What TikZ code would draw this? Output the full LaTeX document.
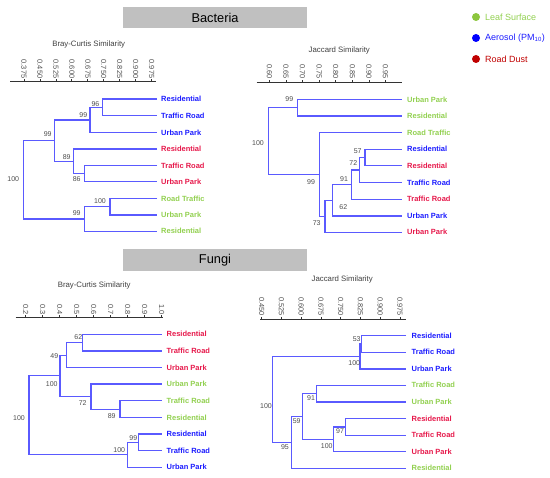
\documentclass[tikz,border=0pt]{standalone}
\usepackage{fontspec}
\setmainfont{Liberation Sans}
\definecolor{treeblue}{HTML}{5A5AFF}
\definecolor{labblue}{HTML}{1C1CFF}
\definecolor{labred}{HTML}{E6194B}
\definecolor{labgreen}{HTML}{92D050}
\definecolor{dotgreen}{HTML}{8CC63E}
\definecolor{dotred}{HTML}{C00000}
\definecolor{numgray}{HTML}{4D4D4D}
\definecolor{headgray}{HTML}{C0C0C0}
\tikzset{
  tree/.style={draw=treeblue, line width=1.1pt},
  leaf/.style={anchor=west, inner sep=0pt, font=\bfseries\fontsize{7.5}{8}\selectfont},
  boot/.style={inner sep=0pt, text=numgray, font=\fontsize{7}{8}\selectfont},
  ticklab/.style={rotate=-90, anchor=east, inner sep=0pt, text=numgray, font=\fontsize{7.4}{8}\selectfont},
  axis/.style={draw=black!80, line width=0.8pt},
  simtitle/.style={inner sep=0pt, text=black!75, font=\fontsize{7.8}{9}\selectfont},
  header/.style={fill=headgray, draw=none},
}
\begin{document}
\begin{tikzpicture}[x=1pt,y=-1pt]
\useasboundingbox (0,0) rectangle (550,478);
%headers
\fill[header] (123.3,7) rectangle (306.5,28);
\node[font=\fontsize{12.8}{14}\selectfont] (bachead) at (215,17.5) {Bacteria};
\fill[header] (123.3,249.3) rectangle (306.5,270.7);
\node[font=\fontsize{12.8}{14}\selectfont] (funhead) at (215,260) {Fungi};
%legend
\fill[dotgreen] (476,17) circle (4);
\fill[blue] (476,38) circle (4);
\fill[dotred] (476,59) circle (4);
\node[anchor=west, inner sep=0pt, text=labgreen, font=\fontsize{9}{10}\selectfont] (legleaf) at (485,17) {Leaf Surface};
\node[anchor=west, inner sep=0pt, text=labblue, font=\fontsize{9}{10}\selectfont] (legaer) at (485,38) {Aerosol (PM\textsubscript{10})};
\node[anchor=west, inner sep=0pt, text=dotred, font=\fontsize{9}{10}\selectfont] (legdust) at (485,59) {Road Dust};

%%% bacteria, bray-curtis
\node[simtitle] (bbtitle) at (88.7,44) {Bray-Curtis Similarity};
\draw[axis] (10,81.7) -- (156,81.7);
\foreach \v [count=\i from 0] in {0.375,0.450,0.525,0.600,0.675,0.750,0.825,0.900,0.975}
  {\draw[axis] ({24+15.95*\i},79.5) -- ({24+15.95*\i},81.7);
   \node[ticklab] (bbt\i) at ({24+15.95*\i},78.5) {\v};}
\node[leaf,text=labblue] (bb1) at (161,99) {Residential};
\node[leaf,text=labblue] (bb2) at (161,115.7) {Traffic Road};
\node[leaf,text=labblue] (bb3) at (161,132.5) {Urban Park};
\node[leaf,text=labred] (bb4) at (161,149) {Residential};
\node[leaf,text=labred] (bb5) at (161,165.5) {Traffic Road};
\node[leaf,text=labred] (bb6) at (161,181.8) {Urban Park};
\node[leaf,text=labgreen] (bb7) at (161,198.5) {Road Traffic};
\node[leaf,text=labgreen] (bb8) at (161,215) {Urban Park};
\node[leaf,text=labgreen] (bb9) at (161,231.3) {Residential};
\draw[tree] (157,99) -| (102.7,115.7) -- (157,115.7);
\draw[tree] (102.7,107.3) -| (90,132.5) -- (157,132.5);
\draw[tree] (157,165.5) -| (84.3,181.8) -- (157,181.8);
\draw[tree] (157,149) -| (73.3,173.6) -- (84.3,173.6);
\draw[tree] (90,120) -| (54.3,161.3) -- (73.3,161.3);
\draw[tree] (157,198.5) -| (110,215) -- (157,215);
\draw[tree] (110,206.8) -| (84.3,231.3) -- (157,231.3);
\draw[tree] (54.3,140.6) -| (23.3,219) -- (84.3,219);
\node[boot] (bbn1) at (95.5,104) {96};
\node[boot] (bbn2) at (83.3,115) {99};
\node[boot] (bbn3) at (76.7,179) {86};
\node[boot] (bbn4) at (66.7,157) {89};
\node[boot] (bbn5) at (47.7,134.5) {99};
\node[boot] (bbn6) at (100,201) {100};
\node[boot] (bbn7) at (76.7,213.5) {99};
\node[boot] (bbn8) at (13.3,179) {100};

%%% bacteria, jaccard
\node[simtitle] (bjtitle) at (339.3,50) {Jaccard Similarity};
\draw[axis] (256.7,82.3) -- (401.7,82.3);
\foreach \v [count=\i from 0] in {0.60,0.65,0.70,0.75,0.80,0.85,0.90,0.95}
  {\draw[axis] ({269.3+16.6*\i},80.1) -- ({269.3+16.6*\i},82.3);
   \node[ticklab] (bjt\i) at ({269.3+16.6*\i},79.1) {\v};}
\node[leaf,text=labgreen] (bj1) at (407,99.7) {Urban Park};
\node[leaf,text=labgreen] (bj2) at (407,116) {Residential};
\node[leaf,text=labgreen] (bj3) at (407,132.8) {Road Traffic};
\node[leaf,text=labblue] (bj4) at (407,149.3) {Residential};
\node[leaf,text=labred] (bj5) at (407,165.7) {Residential};
\node[leaf,text=labblue] (bj6) at (407,182.5) {Traffic Road};
\node[leaf,text=labred] (bj7) at (407,199.2) {Traffic Road};
\node[leaf,text=labblue] (bj8) at (407,216) {Urban Park};
\node[leaf,text=labred] (bj9) at (407,232.3) {Urban Park};
\draw[tree] (401.7,99.7) -| (297.7,116) -- (401.7,116);
\draw[tree] (401.7,149.3) -| (365,165.7) -- (401.7,165.7);
\draw[tree] (365,157.5) -| (359.3,182.5) -- (401.7,182.5);
\draw[tree] (359.3,170) -| (351.7,199.2) -- (401.7,199.2);
\draw[tree] (351.7,184.6) -| (332.5,216) -- (401.7,216);
\draw[tree] (332.5,200.3) -| (325,232.3) -- (401.7,232.3);
\draw[tree] (401.7,132.8) -| (319.7,216.3) -- (325,216.3);
\draw[tree] (297.7,107.8) -| (268.3,174.5) -- (319.7,174.5);
\node[boot] (bjn1) at (289.3,99.5) {99};
\node[boot] (bjn2) at (357.7,151) {57};
\node[boot] (bjn3) at (353.3,163.3) {72};
\node[boot] (bjn4) at (344,179.5) {91};
\node[boot] (bjn5) at (343.3,207.3) {62};
\node[boot] (bjn6) at (316.7,222.7) {73};
\node[boot] (bjn7) at (311,181.7) {99};
\node[boot] (bjn8) at (258,143) {100};

%%% fungi, bray-curtis
\node[simtitle] (fbtitle) at (94.2,285.7) {Bray-Curtis Similarity};
\draw[axis] (15.7,317.7) -- (162.7,317.7);
\foreach \v [count=\i from 0] in {0.2,0.3,0.4,0.5,0.6,0.7,0.8,0.9,1.0}
  {\draw[axis] ({25.7+17*\i},315.5) -- ({25.7+17*\i},317.7);
   \node[ticklab] (fbt\i) at ({25.7+17*\i},314.5) {\v};}
\node[leaf,text=labred] (fb1) at (166.5,334.3) {Residential};
\node[leaf,text=labred] (fb2) at (166.5,351) {Traffic Road};
\node[leaf,text=labred] (fb3) at (166.5,367.5) {Urban Park};
\node[leaf,text=labgreen] (fb4) at (166.5,384) {Urban Park};
\node[leaf,text=labgreen] (fb5) at (166.5,400.8) {Traffic Road};
\node[leaf,text=labgreen] (fb6) at (166.5,417.5) {Residential};
\node[leaf,text=labblue] (fb7) at (166.5,434) {Residential};
\node[leaf,text=labblue] (fb8) at (166.5,450.7) {Traffic Road};
\node[leaf,text=labblue] (fb9) at (166.5,467.2) {Urban Park};
\draw[tree] (161.7,334.3) -| (82.7,351) -- (161.7,351);
\draw[tree] (82.7,342.7) -| (66.7,367.5) -- (161.7,367.5);
\draw[tree] (161.7,400.8) -| (120,417.5) -- (161.7,417.5);
\draw[tree] (161.7,384) -| (91,409.2) -- (120,409.2);
\draw[tree] (66.7,355.1) -| (60,396.6) -- (91,396.6);
\draw[tree] (161.7,434) -| (138.3,450.7) -- (161.7,450.7);
\draw[tree] (138.3,442.4) -| (127.7,467.2) -- (161.7,467.2);
\draw[tree] (60,375.9) -| (29,454.8) -- (127.7,454.8);
\node[boot] (fbn1) at (78.3,337.3) {62};
\node[boot] (fbn2) at (54.3,355.7) {49};
\node[boot] (fbn3) at (111.7,416) {89};
\node[boot] (fbn4) at (82.7,403.3) {72};
\node[boot] (fbn5) at (51.7,384.5) {100};
\node[boot] (fbn6) at (133.3,438.5) {99};
\node[boot] (fbn7) at (119.3,450) {100};
\node[boot] (fbn8) at (19,417.7) {100};

%%% fungi, jaccard
\node[simtitle] (fjtitle) at (342.2,279) {Jaccard Similarity};
\draw[axis] (260,319) -- (406,319);
\foreach \v [count=\i from 0] in {0.450,0.525,0.600,0.675,0.750,0.825,0.900,0.975}
  {\draw[axis] ({261.7+19.76*\i},316.8) -- ({261.7+19.76*\i},319);
   \node[ticklab] (fjt\i) at ({261.7+19.76*\i},315.8) {\v};}
\node[leaf,text=labblue] (fj1) at (411.5,335.7) {Residential};
\node[leaf,text=labblue] (fj2) at (411.5,352.3) {Traffic Road};
\node[leaf,text=labblue] (fj3) at (411.5,369) {Urban Park};
\node[leaf,text=labgreen] (fj4) at (411.5,385.3) {Traffic Road};
\node[leaf,text=labgreen] (fj5) at (411.5,402) {Urban Park};
\node[leaf,text=labred] (fj6) at (411.5,418.7) {Residential};
\node[leaf,text=labred] (fj7) at (411.5,435.3) {Traffic Road};
\node[leaf,text=labred] (fj8) at (411.5,451.7) {Urban Park};
\node[leaf,text=labgreen] (fj9) at (411.5,468.3) {Residential};
\draw[tree] (406,335.7) -| (361.7,352.3) -- (406,352.3);
\draw[tree] (361.7,344) -| (360,369) -- (406,369);
\draw[tree] (406,385.3) -| (316.7,402) -- (406,402);
\draw[tree] (406,418.7) -| (345.5,435.3) -- (406,435.3);
\draw[tree] (345.5,427) -| (333.3,451.7) -- (406,451.7);
\draw[tree] (316.7,393.6) -| (302.3,439.3) -- (333.3,439.3);
\draw[tree] (302.3,416.5) -| (291.7,468.3) -- (406,468.3);
\draw[tree] (360,356.5) -| (272.7,442.4) -- (291.7,442.4);
\node[boot] (fjn1) at (356.7,339) {53};
\node[boot] (fjn2) at (354.3,363.3) {100};
\node[boot] (fjn3) at (311,398.3) {91};
\node[boot] (fjn4) at (340,431.5) {97};
\node[boot] (fjn5) at (326.7,446.5) {100};
\node[boot] (fjn6) at (296.7,421) {59};
\node[boot] (fjn7) at (285,446.7) {95};
\node[boot] (fjn8) at (266,406) {100};
\end{tikzpicture}
\end{document}
